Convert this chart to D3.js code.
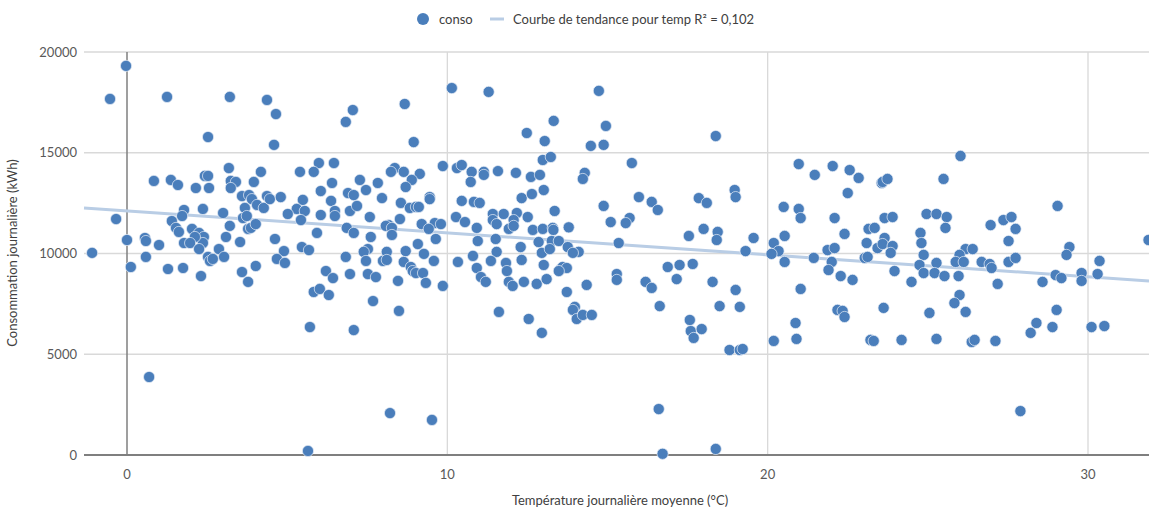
<!DOCTYPE html>
<html lang="fr">
<head>
<meta charset="UTF-8">
<title>Consommation journalière vs température</title>
<script src="https://d3js.org/d3.v7.min.js"></script>
<style>
body { margin: 0; background: #fff; }
svg { display: block; font-family: Lato, "Open Sans", sans-serif; }
.tick-label { font-size: 13px; fill: #595959; }
.axis-title { font-size: 13px; fill: #404040; }
.legend { font-size: 13px; fill: #404040; }
</style>
</head>
<body>
<svg width="1149" height="510"></svg>
<script>
// temperature moyenne du jour (°C) et consommation (kWh), meme ordre
const temperature = [
  -1.09, -0.53, -0.34, -0.03, 0.00, 0.12, 1.25, 3.21, 4.37, 4.65,
  2.53, 4.59, 6.83, 7.05, 3.18, 5.99, 6.46, 5.40, 5.83, 6.40,
  0.84, 1.37, 1.59, 2.15, 2.43, 2.53, 2.56, 3.24, 3.40, 3.24,
  3.96, 4.18, 3.59, 3.81, 3.90, 4.06, 4.27, 4.37, 4.46, 4.80,
  5.49, 6.37, 6.05, 6.90, 5.30, 5.55, 5.02, 6.05, 6.49, 6.49,
  6.96, 6.86, 7.08, 5.43, 5.93, 4.62, 3.68, 3.62, 3.74, 3.00,
  2.37, 1.78, 1.72, 1.40, 1.53, 1.62, 2.03, 2.25, 2.40, 2.37,
  2.12, 1.78, 1.97, 2.25, 2.87, 3.09, 3.21, 3.53, 3.78, 3.87,
  4.02, 0.56, 0.59, 1.00, 4.90, 5.46, 5.68, 6.83, 0.59, 1.28,
  1.75, 2.31, 2.53, 2.59, 2.68, 3.03, 3.59, 3.78, 4.02, 4.68,
  4.93, 6.21, 6.43, 5.83, 6.02, 6.30, 5.71, 6.96, 7.08, 0.69,
  5.65, 8.67, 8.95, 10.14, 11.29, 14.73, 12.48, 13.32, 13.04, 14.95,
  14.48, 14.88, 12.98, 13.23, 9.86, 10.30, 10.45, 10.76, 11.14, 11.14,
  11.58, 12.14, 12.61, 12.89, 13.01, 10.73, 14.29, 14.23, 8.36, 8.24,
  8.64, 9.14, 8.89, 7.27, 7.83, 7.46, 8.70, 7.08, 7.96, 9.45,
  9.45, 8.55, 8.83, 9.02, 9.11, 7.18, 7.58, 8.52, 8.17, 8.08,
  8.27, 9.20, 9.61, 9.80, 9.42, 7.61, 8.27, 9.64, 9.08, 7.52,
  7.39, 8.11, 8.70, 9.27, 10.45, 10.83, 11.01, 10.27, 10.55, 10.92,
  10.95, 11.42, 11.42, 11.54, 11.76, 12.17, 12.07, 11.92, 12.07, 11.51,
  12.32, 12.64, 12.51, 12.67, 12.98, 13.29, 13.31, 13.35, 13.79, 12.85,
  13.26, 13.48, 13.76, 14.88, 15.10, 15.35, 12.29, 14.10, 10.80, 11.54,
  12.95, 13.20, 7.46, 7.99, 8.11, 8.64, 8.86, 8.92, 9.02, 9.24,
  9.58, 9.33, 9.86, 7.52, 7.77, 8.46, 7.68, 8.49, 8.21, 9.52,
  10.33, 10.92, 11.05, 11.20, 11.36, 11.83, 11.86, 11.92, 12.04, 12.32,
  12.39, 12.79, 13.01, 13.10, 13.54, 13.60, 13.73, 13.48, 13.92, 14.35,
  13.73, 13.98, 13.92, 14.04, 14.23, 14.51, 11.61, 12.54, 12.95, 15.29,
  18.38, 15.76, 15.98, 16.38, 16.57, 17.85, 18.10, 18.97, 19.00, 15.69,
  15.57, 17.54, 18.00, 18.44, 18.41, 19.56, 19.31, 20.97, 21.47, 22.03,
  22.56, 22.84, 23.56, 22.50, 20.50, 20.97, 21.03, 22.09, 23.65, 20.53,
  20.19, 22.40, 23.15, 23.34, 23.09, 23.43, 21.87, 22.09, 23.65, 20.34,
  20.12, 20.53, 21.44, 22.00, 21.90, 22.28, 22.65, 23.03, 23.12, 21.03,
  22.18, 22.34, 22.40, 20.87, 20.90, 20.19, 23.21, 23.31, 23.62, 15.29,
  16.88, 17.25, 17.66, 17.16, 16.19, 16.38, 16.63, 18.28, 19.00, 18.50,
  19.13, 17.57, 17.60, 17.69, 17.94, 18.81, 19.13, 19.22, 16.60, 16.72,
  18.38, 26.02, 25.49, 23.59, 23.74, 29.05, 23.90, 24.96, 25.27, 25.59,
  25.55, 26.96, 27.36, 27.61, 27.74, 27.52, 24.77, 24.80, 23.59, 23.90,
  29.42, 26.18, 26.40, 25.99, 24.87, 23.84, 31.89, 29.33, 23.96, 24.49,
  24.74, 24.87, 25.27, 25.21, 25.52, 25.87, 26.12, 25.96, 26.68, 26.93,
  26.99, 27.52, 27.74, 27.18, 28.58, 28.99, 29.17, 29.80, 29.80, 30.30,
  30.36, 25.05, 25.99, 25.83, 26.18, 29.02, 28.39, 28.89, 28.21, 30.11,
  30.51, 24.18, 25.27, 26.37, 26.46, 27.11, 27.89
];
const conso = [
  10030, 17670, 11710, 19310, 10670, 9330, 17770, 17770, 17620, 16920,
  15780, 15390, 16530, 17120, 14240, 14490, 14490, 14050, 14050, 13500,
  13600, 13650, 13400, 13250, 13850, 13850, 13250, 13600, 13550, 13250,
  13550, 14050, 12850, 12900, 12700, 12410, 12260, 12850, 12700, 12800,
  12660, 12610, 13100, 13000, 12210, 12110, 11960, 11910, 12110, 11860,
  12110, 11270, 11020, 11660, 11020, 10720, 12260, 11760, 11860, 12010,
  12210, 12160, 11860, 11610, 11270, 11070, 11220, 11020, 10820, 10520,
  10820, 10520, 10520, 10220, 10220, 10820, 11370, 10570, 11220, 11270,
  11460, 10770, 10620, 10420, 10120, 10320, 10170, 9830, 9830, 9230,
  9280, 8880, 9830, 9630, 9730, 9830, 9080, 8590, 9380, 9730,
  9530, 9130, 8780, 8090, 8240, 7940, 6350, 8980, 6200, 3870,
  200, 17420, 15530, 18210, 18020, 18070, 15980, 16580, 15580, 16330,
  15340, 15390, 14640, 14790, 14340, 14240, 14390, 14050, 14050, 13900,
  14090, 14000, 13800, 13900, 13150, 13550, 14000, 13700, 14240, 14050,
  14050, 13950, 13650, 13650, 13500, 13150, 13300, 12900, 12750, 12800,
  12700, 12510, 12260, 12310, 12310, 12360, 11810, 11710, 11410, 11370,
  11270, 11460, 11510, 11460, 11220, 10820, 10920, 10720, 10470, 10220,
  10080, 10080, 10120, 9980, 12610, 12560, 12510, 11810, 11560, 11270,
  10620, 11960, 11660, 11460, 11960, 12010, 11660, 11220, 11370, 10720,
  12750, 12950, 11810, 11170, 11220, 11270, 11170, 12110, 11300, 10570,
  10620, 10620, 10320, 12360, 11560, 10520, 10320, 10080, 9880, 10080,
  10030, 10220, 9630, 9630, 9680, 9580, 9330, 9130, 9030, 9030,
  9630, 8540, 8390, 8980, 8830, 8640, 7640, 7150, 2080, 1740,
  9580, 9280, 8830, 8590, 9630, 9530, 9130, 8590, 8390, 9680,
  8590, 8490, 9430, 8730, 9230, 9330, 9280, 9130, 10030, 8440,
  8090, 7350, 7200, 6750, 6950, 6950, 7100, 6750, 6060, 8980,
  15830, 14490, 12800, 12560, 12160, 12750, 12510, 13150, 12800, 11760,
  11510, 10870, 11220, 11070, 10670, 10770, 10120, 14440, 13900, 14340,
  14140, 13750, 13500, 13000, 12310, 12210, 11760, 11760, 11760, 10870,
  10520, 10970, 11220, 11270, 10520, 10270, 10170, 10270, 10770, 10120,
  9980, 9580, 9780, 9580, 9180, 8880, 8690, 9780, 9830, 8240,
  7200, 7150, 6850, 6550, 5760, 5660, 5710, 5660, 7300, 8690,
  9330, 9430, 9480, 8730, 8590, 8290, 7390, 8590, 8190, 7390,
  7350, 6700, 6150, 5810, 6250, 5210, 5210, 5260, 2280, 60,
  300, 14840, 13700, 13550, 13700, 12360, 11810, 11960, 11960, 11810,
  11270, 11410, 11660, 11810, 11220, 10620, 11020, 10520, 10470, 10370,
  10320, 10220, 10220, 9930, 9930, 10030, 10670, 9930, 9130, 8590,
  9430, 9030, 9530, 9030, 8880, 9580, 9580, 8880, 9580, 9480,
  9280, 9580, 9780, 8490, 8590, 8930, 8780, 9030, 8640, 8980,
  9630, 7050, 7940, 7540, 7100, 7200, 6550, 6350, 6060, 6350,
  6400, 5710, 5760, 5610, 5710, 5660, 2180
];
const xTicks = [0, 10, 20, 30];
const yTicks = [0, 5000, 10000, 15000, 20000];
// courbe de tendance (R² = 0,102)
const trendCoef = [12115, -109]; // ordonnee a l'origine, pente

const svg = d3.select("svg");
const left = 84, right = 1149;

const x = d3.scaleLinear().domain([0, 30]).range([127, 1088]);
const y = d3.scaleLinear().domain([0, 20000]).range([455, 52]);

// grille horizontale
svg.selectAll(".hgrid")
  .data(yTicks.filter(d => d > 0))
  .enter().append("line")
  .attr("x1", left).attr("x2", right)
  .attr("y1", d => y(d)).attr("y2", d => y(d))
  .attr("stroke", "#d9d9d9").attr("stroke-width", 1.3);

// grille verticale
svg.selectAll(".vgrid")
  .data(xTicks.filter(d => d !== 0))
  .enter().append("line")
  .attr("x1", d => x(d)).attr("x2", d => x(d))
  .attr("y1", y(20000)).attr("y2", y(0))
  .attr("stroke", "#d9d9d9").attr("stroke-width", 1.3);

// axes
svg.append("line")
  .attr("x1", x(0)).attr("x2", x(0))
  .attr("y1", y(20000)).attr("y2", y(0))
  .attr("stroke", "#7f7f7f").attr("stroke-width", 1.5);
svg.append("line")
  .attr("x1", left).attr("x2", right)
  .attr("y1", y(0)).attr("y2", y(0))
  .attr("stroke", "#7f7f7f").attr("stroke-width", 2);

// labels des axes
svg.selectAll(".ylab")
  .data(yTicks)
  .enter().append("text")
  .attr("class", "tick-label")
  .attr("x", 77).attr("y", d => y(d) + 4.5)
  .attr("text-anchor", "end")
  .text(d => d);

svg.selectAll(".xlab")
  .data(xTicks)
  .enter().append("text")
  .attr("class", "tick-label")
  .attr("x", d => x(d)).attr("y", 479)
  .attr("text-anchor", "middle")
  .text(d => d);

svg.append("text")
  .attr("class", "axis-title")
  .attr("transform", "translate(17,253) rotate(-90)")
  .attr("text-anchor", "middle")
  .text("Consommation journalière (kWh)");

svg.append("text")
  .attr("class", "axis-title")
  .attr("x", 620).attr("y", 505)
  .attr("text-anchor", "middle")
  .text("Température journalière moyenne (°C)");

// courbe de tendance
const tMin = x.invert(left), tMax = x.invert(right);
svg.append("line")
  .attr("x1", x(tMin)).attr("y1", y(trendCoef[0] + trendCoef[1] * tMin))
  .attr("x2", x(tMax)).attr("y2", y(trendCoef[0] + trendCoef[1] * tMax))
  .attr("stroke", "#b9cde5").attr("stroke-width", 3);

// points
svg.selectAll(".pt")
  .data(temperature.map((t, i) => [t, conso[i]]))
  .enter().append("circle")
  .attr("cx", d => x(d[0]))
  .attr("cy", d => y(d[1]))
  .attr("r", 5.6)
  .attr("fill", "#4a7ebb")
  .attr("stroke", "#e8eef7")
  .attr("stroke-width", 0.7);

// legende
svg.append("circle")
  .attr("cx", 423).attr("cy", 19).attr("r", 6)
  .attr("fill", "#4a7ebb");
svg.append("text")
  .attr("class", "legend")
  .attr("x", 439).attr("y", 23.5)
  .text("conso");
svg.append("line")
  .attr("x1", 490).attr("x2", 504)
  .attr("y1", 19).attr("y2", 19)
  .attr("stroke", "#b9cde5").attr("stroke-width", 3);
svg.append("text")
  .attr("class", "legend")
  .attr("x", 513).attr("y", 23.5)
  .text("Courbe de tendance pour temp R² = 0,102");
</script>
</body>
</html>
